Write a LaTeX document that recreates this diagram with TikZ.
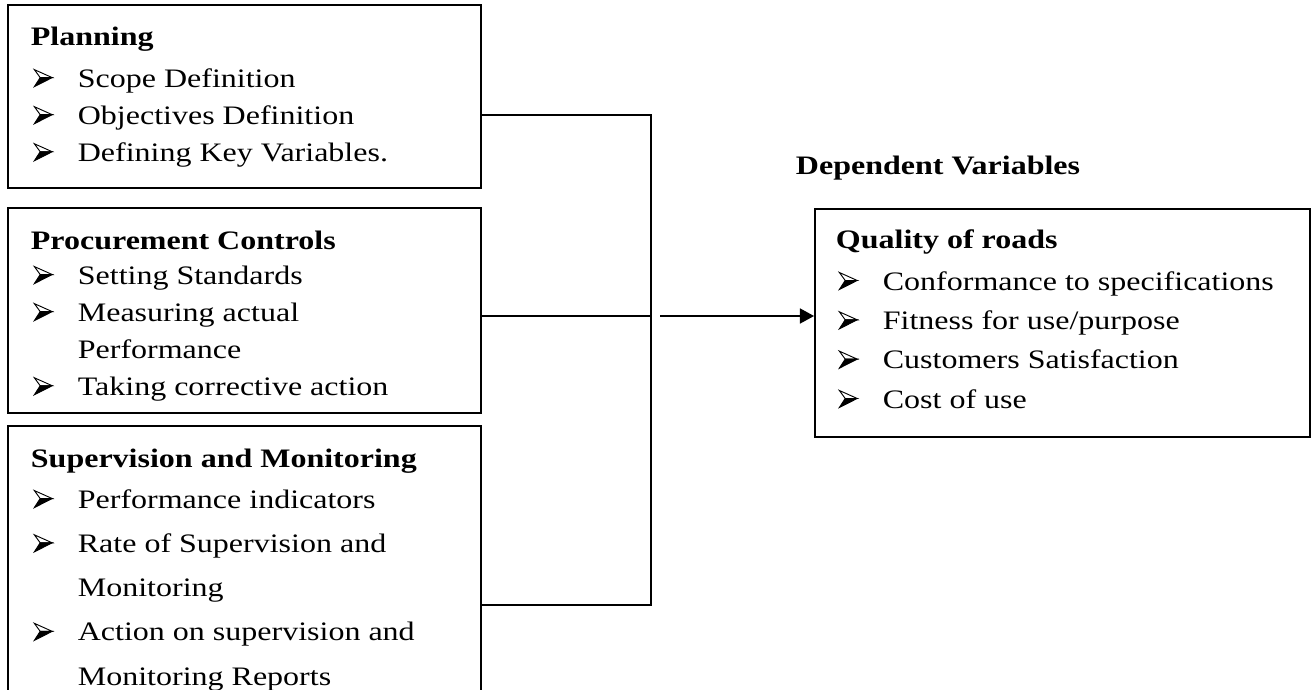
\documentclass[tikz,border=0pt]{standalone}
\usepackage{fontspec}
\setmainfont[FakeStretch=1.2]{Liberation Serif}
\usetikzlibrary{arrows.meta,fit}
\newsavebox\bulbox
\newcommand\bul{\usebox\bulbox}
\newcommand\itm[1]{\hbox{\hspace{1.1pt}\makebox[16.5pt][l]{\bul}#1}}
\newcommand\cnt[1]{\hbox{\hspace{17.6pt}#1}}
\newcommand\blk[4]{\vtop{\baselineskip=#1\lineskiplimit=-20pt\lineskip=0pt
  \hbox{\bfseries #3}\vskip #2\relax #4}}
\begin{document}
\sbox\bulbox{\begin{pgfpicture}
  \pgfsetlinewidth{0.35pt}\pgfsetmiterjoin
  \pgfpathmoveto{\pgfpoint{0pt}{1.9pt}}\pgfpathlineto{\pgfpoint{6.7pt}{5.3pt}}
  \pgfpathlineto{\pgfpoint{2.2pt}{5.3pt}}\pgfpathclose\pgfusepath{fill,stroke}
  \pgfpathmoveto{\pgfpoint{0pt}{8.3pt}}\pgfpathlineto{\pgfpoint{6.7pt}{5.3pt}}
  \pgfpathlineto{\pgfpoint{2.2pt}{5.3pt}}\pgfpathclose\pgfusepath{stroke}
  \pgfusepath{use as bounding box}
  \end{pgfpicture}}
\begin{tikzpicture}[x=0.375pt,y=-0.375pt,line width=0.7pt,
    box/.style={draw,inner sep=0pt,fit={#1}},
    txt/.style={anchor=base west,inner sep=0pt},
    arr/.style={-{Triangle[length=5.3pt,width=5.6pt]}}]
  \useasboundingbox (0,0) rectangle (1315,689);
  \node[box={(8,5) (481,188)}] (plan) {};
  \node[box={(8,208) (481,413)}] (proc) {};
  \node[box={(8,426) (481,705)}] (supv) {};
  \node[box={(815,209) (1310,437)}] (qual) {};
  \node[txt] (plantxt) at (30,45) {\blk{13.9pt}{1.9pt}{Planning}{%
    \itm{Scope Definition}\itm{Objectives Definition}\itm{Defining Key Variables.}}};
  \node[txt] (proctxt) at (30,249) {\blk{13.9pt}{-0.75pt}{Procurement Controls}{%
    \itm{Setting Standards}\itm{Measuring actual}\cnt{Performance}\itm{Taking corrective action}}};
  \node[txt] (supvtxt) at (30,467) {\blk{16.6pt}{-1.2pt}{Supervision and Monitoring}{%
    \itm{Performance indicators}\itm{Rate of Supervision and}\cnt{Monitoring}%
    \itm{Action on supervision and}\cnt{Monitoring Reports}}};
  \node[txt] (qualtxt) at (835,248) {\blk{14.75pt}{1pt}{Quality of roads}{%
    \itm{Conformance to specifications}\itm{Fitness for use/purpose}%
    \itm{Customers Satisfaction}\itm{Cost of use}}};
  \node[txt,font=\bfseries] (depvar) at (795,174) {Dependent Variables};
  \coordinate (j1) at (651,115);
  \coordinate (j2) at (651,316);
  \coordinate (j3) at (651,605);
  \coordinate (a0) at (660,316);
  \draw (plan.east |- j1) -- (j1) -- (j3) -- (supv.east |- j3);
  \draw (proc.east |- j2) -- (j2);
  \draw[arr] (a0) -- (qual.west |- a0);
\end{tikzpicture}
\end{document}
